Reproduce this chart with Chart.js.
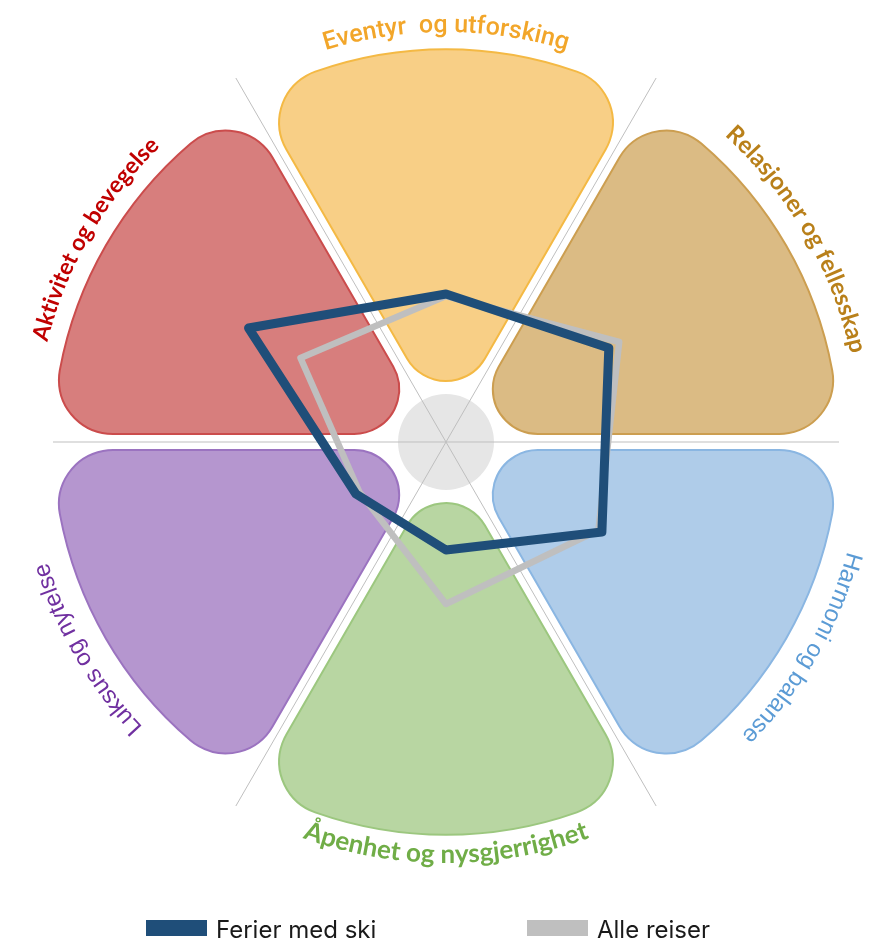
<!DOCTYPE html>
<html>
<head>
<meta charset="utf-8">
<script src="https://cdn.jsdelivr.net/npm/chart.js@4.4.1/dist/chart.umd.min.js"></script>
<style>
  html, body { margin: 0; padding: 0; background: #fff; }
  #wrap { position: relative; width: 877px; height: 942px; }
</style>
</head>
<body>
<div id="wrap"><canvas id="travelRadar"></canvas></div>
<script>
// axes, clockwise from the top
const categories = [
    "Eventyr  og utforsking",
    "Relasjoner og fellesskap",
    "Harmoni og balanse",
    "Åpenhet og nysgjerrighet",
    "Luksus og nytelse",
    "Aktivitet og bevegelse"
];
const seriesNames = ["Ferier med ski", "Alle reiser"];
const skiValues = [37, 47, 45, 27, 26, 57];
const allValues = [36.5, 50, 44, 40.5, 25, 42];

// look of each sector
const petalFill = ["#f8cf86", "#dbbb84", "#afcce9", "#b8d6a2", "#b596cf", "#d77e7d"];
const petalLine = ["#f4b944", "#cc9e50", "#8ab6e2", "#9cc77f", "#9b73c0", "#cb4c4c"];
const labelColor = ["#f2a62a", "#b9801a", "#5b9bd5", "#70ad47", "#7030a0", "#c00000"];
const labelFont = [
    "500 25px Roboto",
    "bold 24px Lato",
    "24px 'Liberation Sans'",
    "bold 26px Lato",
    "24px 'Liberation Sans'",
    "bold 23px Lato"
];
const labelRadius = [410, 414, 416, 421, 416, 411];

function petalPath(ctx, cx, cy, u, g, Ro, ro, ri) {
    const half = Math.PI / 6;
    const ux = Math.cos(u), uy = Math.sin(u);
    const side = (s) => {
        const a = u + s * half;
        const ex = Math.cos(a), ey = Math.sin(a);
        let nx = -ey, ny = ex;
        if (nx * ux + ny * uy < 0) { nx = -nx; ny = -ny; }
        const alpha = Math.sqrt((Ro - ro) ** 2 - (g + ro) ** 2);
        return {
            nx, ny,
            fx: alpha * ex + (g + ro) * nx, fy: alpha * ey + (g + ro) * ny,
            tx: alpha * ex + g * nx, ty: alpha * ey + g * ny
        };
    };
    const A = side(-1), B = side(1);
    const f0 = 2 * (g + ri);
    const f0x = f0 * ux, f0y = f0 * uy;
    const a0x = f0x - ri * A.nx, a0y = f0y - ri * A.ny;
    const b0x = f0x - ri * B.nx, b0y = f0y - ri * B.ny;
    const ang = (x, y) => Math.atan2(y, x);

    ctx.beginPath();
    ctx.moveTo(cx + a0x, cy + a0y);
    ctx.lineTo(cx + A.tx, cy + A.ty);
    ctx.arc(cx + A.fx, cy + A.fy, ro, ang(A.tx - A.fx, A.ty - A.fy), ang(A.fx, A.fy), false);
    ctx.arc(cx, cy, Ro, ang(A.fx, A.fy), ang(B.fx, B.fy), false);
    ctx.arc(cx + B.fx, cy + B.fy, ro, ang(B.fx, B.fy), ang(B.tx - B.fx, B.ty - B.fy), false);
    ctx.lineTo(cx + b0x, cy + b0y);
    ctx.arc(cx + f0x, cy + f0y, ri, ang(b0x - f0x, b0y - f0y), ang(a0x - f0x, a0y - f0y), false);
    ctx.closePath();
}

function arcText(ctx, text, cx, cy, r, mid, flip) {
    let total = 0;
    const widths = [];
    for (const ch of text) {
        const w = ctx.measureText(ch).width;
        widths.push(w);
        total += w;
    }
    const span = total / r;
    let acc = 0;
    let i = 0;
    for (const ch of text) {
        const w = widths[i++];
        let a;
        ctx.save();
        if (!flip) {
            a = mid - span / 2 + (acc + w / 2) / r;
            ctx.translate(cx + r * Math.cos(a), cy + r * Math.sin(a));
            ctx.rotate(a + Math.PI / 2);
        } else {
            a = mid + span / 2 - (acc + w / 2) / r;
            ctx.translate(cx + r * Math.cos(a), cy + r * Math.sin(a));
            ctx.rotate(a - Math.PI / 2);
        }
        ctx.fillText(ch, 0, 0);
        ctx.restore();
        acc += w;
    }
}

const wheelPlugin = {
    id: "wheel",
    beforeDatasetsDraw(chart) {
        const ctx = chart.ctx;
        const scale = chart.scales.r;
        const cx = scale.xCenter, cy = scale.yCenter;
        const R = scale.drawingArea;
        const n = chart.data.labels.length;
        ctx.save();

        // grey hub
        ctx.fillStyle = "#e6e6e6";
        ctx.beginPath();
        ctx.arc(cx, cy, 48, 0, Math.PI * 2);
        ctx.fill();

        // separator lines between the sectors
        ctx.strokeStyle = "#bfbfbf";
        ctx.lineWidth = 1;
        const hw = 393, hh = 364;
        for (let i = 0; i < n / 2; i++) {
            const p = scale.getPointPosition(i, R);
            const u = Math.atan2(p.y - cy, p.x - cx) + Math.PI / n;
            const dx = Math.cos(u), dy = Math.sin(u);
            const t = Math.min(Math.abs(dx) > 1e-6 ? hw / Math.abs(dx) : 1e9,
                               Math.abs(dy) > 1e-6 ? hh / Math.abs(dy) : 1e9);
            ctx.beginPath();
            ctx.moveTo(cx - dx * t, cy - dy * t);
            ctx.lineTo(cx + dx * t, cy + dy * t);
            ctx.stroke();
        }

        // sector petals
        ctx.lineWidth = 2;
        for (let i = 0; i < n; i++) {
            const p = scale.getPointPosition(i, R);
            const u = Math.atan2(p.y - cy, p.x - cx);
            petalPath(ctx, cx, cy, u, 8, R * 0.982, 54, 45);
            ctx.fillStyle = petalFill[i];
            ctx.fill();
            ctx.strokeStyle = petalLine[i];
            ctx.stroke();
        }
        ctx.restore();
    },
    afterDraw(chart) {
        const ctx = chart.ctx;
        const scale = chart.scales.r;
        const cx = scale.xCenter, cy = scale.yCenter;
        const R = scale.drawingArea;
        ctx.save();
        ctx.textAlign = "center";
        ctx.textBaseline = "alphabetic";
        chart.data.labels.forEach((lab, i) => {
            const p = scale.getPointPosition(i, R);
            const u = Math.atan2(p.y - cy, p.x - cx);
            const flip = Math.abs(u - Math.PI / 2) < Math.PI / 4;
            ctx.font = labelFont[i];
            ctx.fillStyle = labelColor[i];
            arcText(ctx, lab, cx, cy, labelRadius[i], u, flip);
        });

        // legend
        ctx.textAlign = "left";
        ctx.font = "24px Inter";
        chart.data.datasets.forEach((ds, i) => {
            const x = 146 + i * 381;
            ctx.fillStyle = ds.borderColor;
            ctx.fillRect(x, 920, 61, 16);
            ctx.fillStyle = "#1a1a1a";
            ctx.fillText(ds.label, x + 70, 938);
        });
        ctx.restore();
    }
};

new Chart(document.getElementById("travelRadar"), {
    type: "radar",
    data: {
        labels: categories,
        datasets: [
            {
                label: seriesNames[0],
                data: skiValues,
                borderColor: "#1f4e79",
                borderWidth: 9,
                borderJoinStyle: "round",
                fill: false,
                pointRadius: 0
            },
            {
                label: seriesNames[1],
                data: allValues,
                borderColor: "#bfbfbf",
                borderWidth: 6.5,
                borderJoinStyle: "round",
                fill: false,
                pointRadius: 0
            }
        ]
    },
    options: {
        responsive: true,
        maintainAspectRatio: false,
        animation: false,
        layout: { padding: { left: 46, right: 31, top: 42, bottom: 100 } },
        elements: { line: { tension: 0 } },
        plugins: {
            legend: { display: false },
            tooltip: { enabled: false }
        },
        scales: {
            r: {
                min: 0,
                max: 100,
                grid: { display: false },
                angleLines: { display: false },
                ticks: { display: false },
                pointLabels: { display: false }
            }
        }
    },
    plugins: [wheelPlugin]
});
</script>
</body>
</html>
